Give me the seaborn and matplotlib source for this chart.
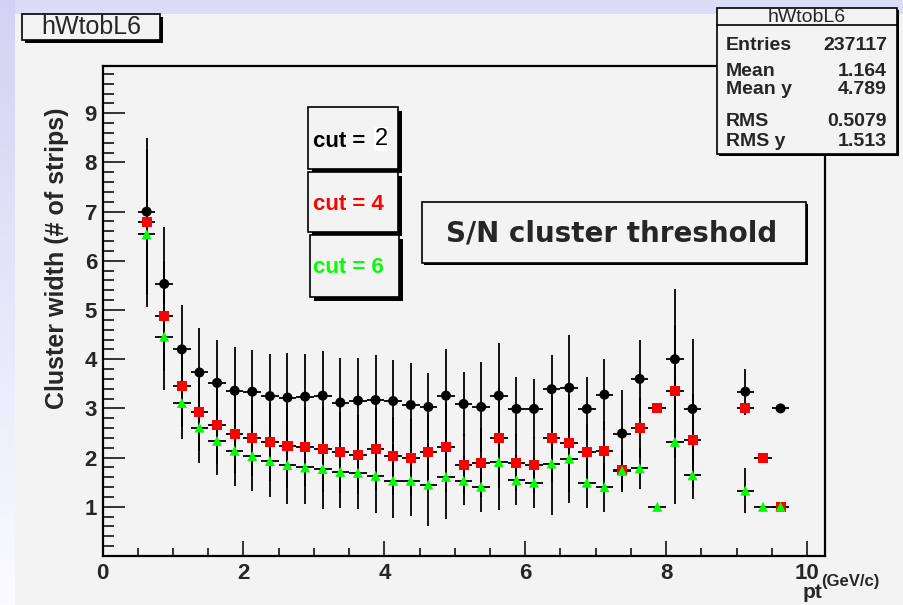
import numpy as np
import pandas as pd
import matplotlib
matplotlib.use("Agg")
import matplotlib.pyplot as plt
import seaborn as sns
from matplotlib.patches import Rectangle
from matplotlib.ticker import MultipleLocator

# ---------------------------------
# Data
# ---------------------------------
pt = [0.625, 0.875, 1.125, 1.375, 1.625, 1.875, 2.125, 2.375, 2.625, 2.875,
      3.125, 3.375, 3.625, 3.875, 4.125, 4.375, 4.625, 4.875, 5.125, 5.375,
      5.625, 5.875, 6.125, 6.375, 6.625, 6.875, 7.125, 7.375, 7.625, 7.875,
      8.125, 8.375, 9.125, 9.375, 9.625]
bin_half = 0.125

nan = np.nan
cut2 = [7.00, 5.53, 4.20, 3.73, 3.52, 3.36, 3.34, 3.25, 3.22, 3.24,
        3.26, 3.12, 3.16, 3.17, 3.15, 3.07, 3.03, 3.26, 3.09, 3.03,
        3.26, 2.99, 2.99, 3.39, 3.42, 2.99, 3.28, 2.49, 3.60, nan,
        4.00, 2.99, 3.34, nan, 3.00]
err2 = [1.49, 1.16, 0.91, 0.91, 0.88, 0.88, 0.84, 0.85, 0.91, 0.86,
        0.90, 0.91, 0.87, 0.91, 0.83, 0.86, 0.68, 0.95, 0.65, 0.92,
        1.06, 0.64, 0.60, 0.69, 1.07, 0.64, 0.72, 0.88, 0.80, 0.0,
        1.42, 1.43, 0.47, 0.0, 0.0]

cut4 = [6.79, 4.88, 3.45, 2.93, 2.66, 2.48, 2.40, 2.32, 2.23, 2.22,
        2.17, 2.11, 2.06, 2.17, 2.03, 2.00, 2.11, 2.21, 1.85, 1.90,
        2.40, 1.90, 1.85, 2.40, 2.29, 2.11, 2.13, 1.74, 2.61, 3.00,
        3.35, 2.35, 3.00, 2.00, 1.00]
err4 = [1.48, 1.12, 0.82, 0.80, 0.79, 0.80, 0.78, 0.80, 0.85, 0.80,
        0.86, 0.82, 0.80, 0.83, 0.79, 0.79, 0.76, 0.90, 0.62, 0.70,
        1.02, 0.58, 0.56, 0.87, 0.99, 0.58, 0.61, 0.40, 0.60, 0.0,
        1.35, 0.95, 0.14, 0.0, 0.0]

cut6 = [6.54, 4.46, 3.11, 2.61, 2.34, 2.14, 2.03, 1.93, 1.85, 1.80,
        1.77, 1.71, 1.69, 1.63, 1.53, 1.53, 1.45, 1.61, 1.53, 1.41,
        1.91, 1.54, 1.49, 1.88, 1.98, 1.49, 1.40, 1.73, 1.78, 1.00,
        2.32, 1.64, 1.33, 1.00, 1.00]
err6 = [1.47, 1.09, 0.74, 0.72, 0.70, 0.72, 0.71, 0.74, 0.80, 0.75,
        0.82, 0.74, 0.74, 0.76, 0.75, 0.72, 0.84, 0.85, 0.50, 0.51,
        0.98, 0.51, 0.51, 1.05, 0.91, 0.51, 0.50, 0.43, 0.41, 0.0,
        1.27, 0.48, 0.46, 0.0, 0.0]

cuts = ["2", "4", "6"]
colors = {"2": "black", "4": "#ff0000", "6": "#00ff00"}
markers = {"2": "o", "4": "s", "6": "^"}

stats_names = ["Entries", "Mean", "Mean y", "RMS", "RMS y"]
stats_values = ["237117", "1.164", "4.789", "0.5079", "1.513"]

df = pd.concat([
    pd.DataFrame({"pt": pt, "width": cut2, "err": err2, "cut": "2"}),
    pd.DataFrame({"pt": pt, "width": cut4, "err": err4, "cut": "4"}),
    pd.DataFrame({"pt": pt, "width": cut6, "err": err6, "cut": "6"}),
]).dropna()

# ---------------------------------
# Figure / pad
# ---------------------------------
W, H = 904, 605
PAD = "#f3f3f3"
sns.set_theme(style="white")
plt.rcParams["font.family"] = ["Liberation Sans", "DejaVu Sans"]

fig = plt.figure(figsize=(W / 100, H / 100), dpi=100, facecolor=PAD)

# slide background strips (lavender gradient on the left, band on top)
bg = np.ones((H, W, 3)) * np.array([0xf3, 0xf3, 0xf3]) / 255
top_col = np.array([0xdc, 0xdc, 0xf6]) / 255
bg[:14, :, :] = top_col
grad = np.linspace(0, 1, H)[:, None]
left = (1 - grad) * np.array([0xd2, 0xd2, 0xf4]) / 255 + grad * np.array([0xfb, 0xfb, 0xff]) / 255
bg[:, :15, :] = left[:, None, :]
fig.figimage(bg, xo=0, yo=0, origin="upper", zorder=-1)


def fx(px):
    return px / W


def fy(py):
    return 1 - py / H


def box(x0, y0, x1, y1, shadow=0, face=PAD, lw=1.2):
    if shadow:
        fig.add_artist(Rectangle((fx(x0 + shadow), fy(y1 + shadow)), fx(x1 - x0), (y1 - y0) / H,
                                 transform=fig.transFigure, facecolor="black",
                                 edgecolor="none", zorder=4))
    fig.add_artist(Rectangle((fx(x0), fy(y1)), fx(x1 - x0), (y1 - y0) / H,
                             transform=fig.transFigure, facecolor=face,
                             edgecolor="black", linewidth=lw, zorder=5))


ax_l, ax_r, ax_t, ax_b = 102.6, 825, 66, 556
ax = fig.add_axes([fx(ax_l), fy(ax_b), fx(ax_r - ax_l), (ax_b - ax_t) / H])
ax.set_facecolor(PAD)

# ---------------------------------
# Error bars + markers
# ---------------------------------
for c in cuts:
    d = df[df["cut"] == c]
    ax.errorbar(d["pt"], d["width"], xerr=bin_half, yerr=d["err"], fmt="none",
                ecolor="black", elinewidth=1.3, capsize=0, zorder=2)

sns.scatterplot(data=df, x="pt", y="width", hue="cut", style="cut",
                palette=colors, markers=markers, s=52, linewidth=0,
                legend=False, ax=ax, zorder=3)

ax.set_xlim(0, 10.256)
ax.set_ylim(0, 9.96)
ax.set_xticks([0, 2, 4, 6, 8, 10])
ax.set_yticks(range(1, 10))
ax.xaxis.set_minor_locator(MultipleLocator(0.5))
ax.yaxis.set_minor_locator(MultipleLocator(0.2))
ax.tick_params(axis="both", which="both", direction="in", bottom=True, left=True,
               top=False, right=False, width=1.1, color="black", labelsize=16)
ax.tick_params(axis="x", which="major", length=11, pad=5)
ax.tick_params(axis="x", which="minor", length=6)
ax.tick_params(axis="y", which="major", length=16, pad=4)
ax.tick_params(axis="y", which="minor", length=8)
for lab in ax.get_xticklabels() + ax.get_yticklabels():
    lab.set_fontweight("bold")
for sp in ax.spines.values():
    sp.set_linewidth(1.6)
    sp.set_color("black")
ax.set_xlabel("")
ax.set_ylabel("")

fig.text(fx(57), fy(258), "Cluster width (# of strips)", rotation=90,
         ha="center", va="center", fontsize=18, fontweight="bold")
fig.text(fx(803), fy(598), "pt", ha="left", va="baseline", fontsize=15, fontweight="bold")
fig.text(fx(821), fy(586), "(GeV/c)", ha="left", va="baseline", fontsize=12, fontweight="bold")

# ---------------------------------
# Title box and stats box
# ---------------------------------
box(22, 14, 160, 40, shadow=3)
fig.text(fx(91), fy(27), "hWtobL6", ha="center", va="center", fontsize=18, zorder=6)

box(717, 8, 897, 154, shadow=2)
fig.add_artist(plt.Line2D([fx(717), fx(897)], [fy(25), fy(25)],
                          transform=fig.transFigure, color="black", lw=1.2, zorder=6))
fig.text(fx(807), fy(17), "hWtobL6", ha="center", va="center", fontsize=14, zorder=6)
for name, val, yy in zip(stats_names, stats_values, [46, 71, 90, 121, 141]):
    fig.text(fx(726), fy(yy), name, ha="left", va="center", fontsize=14,
             fontweight="bold", zorder=6)
    fig.text(fx(887), fy(yy), val, ha="right", va="center", fontsize=14,
             fontweight="bold", zorder=6)

# ---------------------------------
# Legend boxes
# ---------------------------------
leg_boxes = [(308, 107, 398, 169), (308, 172, 398, 232), (310, 235, 399, 297)]
leg_y = [141, 205, 268]
for c, (x0, y0, x1, y1), yy in zip(cuts, leg_boxes, leg_y):
    box(x0, y0, x1, y1, shadow=4)
    if c == "2":
        fig.text(fx(313), fy(yy), "cut = ", ha="left", va="center", fontsize=16,
                 fontweight="bold", color=colors[c], zorder=6)
        fig.text(fx(381), fy(yy - 2), "2", ha="center", va="center", fontsize=17,
                 color="black", zorder=6,
                 bbox=dict(facecolor="white", edgecolor="none", pad=0.5))
    else:
        fig.text(fx(313), fy(yy), "cut = " + c, ha="left", va="center", fontsize=16,
                 fontweight="bold", color=colors[c], zorder=6)

box(422, 202, 806, 263, shadow=2)
fig.text(fx(612), fy(233), "S/N cluster threshold", ha="center", va="center",
         fontsize=20, fontweight="bold", family="DejaVu Sans", zorder=6)

plt.savefig("out.png", dpi=100, facecolor=fig.get_facecolor())
